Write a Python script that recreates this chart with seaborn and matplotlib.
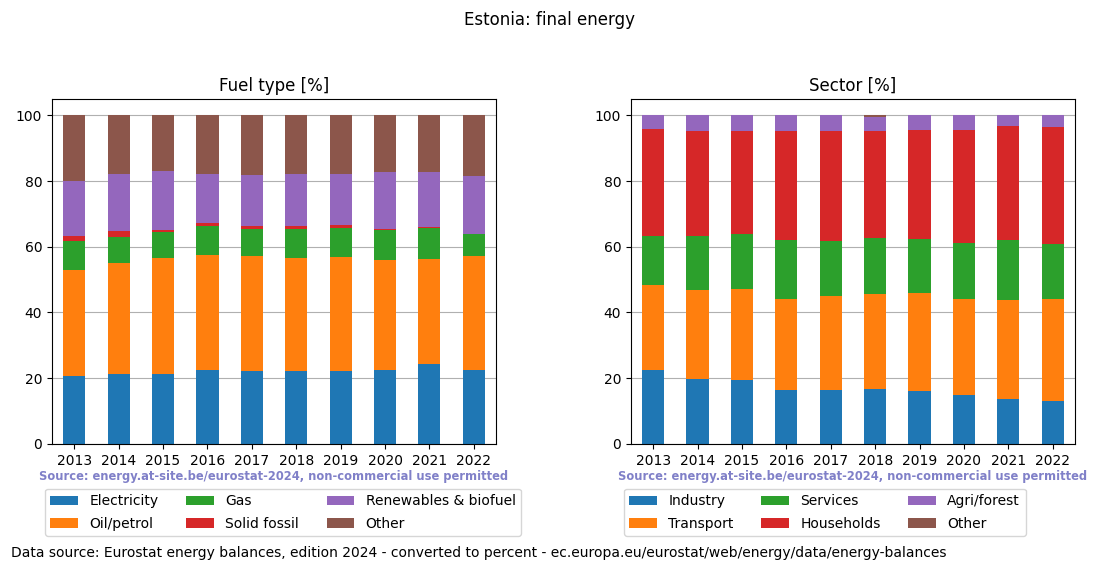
import numpy as np
import pandas as pd
import matplotlib
matplotlib.use('Agg')
import matplotlib.pyplot as plt
import seaborn as sns

years = ['2013', '2014', '2015', '2016', '2017', '2018', '2019', '2020', '2021', '2022']

# fuel type shares [%]
fuel_names = ['Electricity', 'Oil/petrol', 'Gas', 'Solid fossil', 'Renewables & biofuel', 'Other']
electricity = [20.7, 21.3, 21.3, 22.5, 22.2, 22.2, 22.2, 22.5, 24.4, 22.5]
oil_petrol = [32.3, 33.8, 35.3, 35.1, 35.1, 34.4, 34.8, 33.5, 31.9, 34.8]
gas = [8.8, 7.9, 8.0, 8.8, 8.2, 8.9, 8.8, 9.2, 9.5, 6.7]
solid_fossil = [1.6, 1.9, 0.6, 0.9, 0.9, 0.9, 0.9, 0.3, 0.1, 0.0]
renewables = [16.7, 17.3, 17.9, 14.9, 15.5, 15.8, 15.5, 17.3, 16.9, 17.6]
fuel_other = [19.9, 17.8, 16.9, 17.8, 18.1, 17.8, 17.8, 17.2, 17.2, 18.4]

# sector shares [%]
sector_names = ['Industry', 'Transport', 'Services', 'Households', 'Agri/forest', 'Other']
industry = [22.5, 19.8, 19.5, 16.4, 16.4, 16.7, 16.1, 14.9, 13.7, 13.1]
transport = [25.8, 27.0, 27.6, 27.7, 28.6, 28.9, 29.8, 29.2, 30.1, 31.0]
services = [14.9, 16.4, 16.7, 17.9, 16.7, 17.0, 16.4, 17.0, 18.2, 16.7]
households = [32.8, 31.9, 31.3, 33.1, 33.4, 32.5, 33.4, 34.6, 34.7, 35.6]
agri_forest = [4.0, 4.9, 4.9, 4.9, 4.9, 4.4, 4.3, 4.3, 3.3, 3.6]
sector_other = [0.0, 0.0, 0.0, 0.0, 0.0, 0.5, 0.0, 0.0, 0.0, 0.0]

fuel = pd.DataFrame(dict(zip(fuel_names, [electricity, oil_petrol, gas, solid_fossil, renewables, fuel_other])), index=years)
sector = pd.DataFrame(dict(zip(sector_names, [industry, transport, services, households, agri_forest, sector_other])), index=years)

colors = sns.color_palette('tab10', 6)
source = 'Source: energy.at-site.be/eurostat-2024, non-commercial use permitted'

fig = plt.figure(figsize=(11, 5.72), dpi=100)
ax1 = fig.add_axes([0.0473, 0.224, 0.4036, 0.603])
ax2 = fig.add_axes([0.5736, 0.224, 0.4036, 0.603])


def stacked(ax, df, title):
    bottom = np.zeros(len(df))
    for col, c in zip(df.columns, colors):
        sns.barplot(x=df.index, y=df[col].values, bottom=bottom, color=c, width=0.5,
                    label=col, ax=ax, saturation=1, linewidth=0)
        bottom += df[col].values
    ax.set_ylim(0, 105)
    ax.set_xlim(-0.5, len(df) - 0.5)
    ax.set_title(title, fontsize=12)
    ax.set_xlabel('')
    ax.set_ylabel('')
    ax.yaxis.grid(True, color='#b0b0b0')
    ax.set_axisbelow(True)
    ax.tick_params(axis='both', labelsize=10)
    ax.text(0.5, -0.095, source, transform=ax.transAxes, ha='center', va='center',
            fontsize=8.3, fontweight='bold', color='#8080c8')
    ax.legend(loc='upper left', bbox_to_anchor=(-0.016, -0.13), ncol=3, fontsize=10,
              borderaxespad=0, labelspacing=0.6)


stacked(ax1, fuel, 'Fuel type [%]')
stacked(ax2, sector, 'Sector [%]')

fig.suptitle('Estonia: final energy', fontsize=12, y=0.98)
fig.text(0.01, 0.033, 'Data source: Eurostat energy balances, edition 2024 - converted to percent - '
         'ec.europa.eu/eurostat/web/energy/data/energy-balances', fontsize=10, va='center')

fig.savefig('out.png', dpi=100)
